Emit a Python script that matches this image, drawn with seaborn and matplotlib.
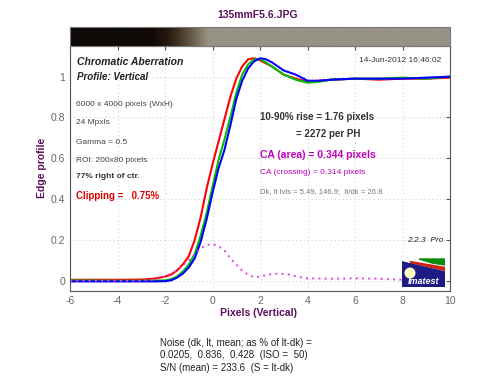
import numpy as np
import pandas as pd
import matplotlib
matplotlib.use("Agg")
import matplotlib.pyplot as plt
import seaborn as sns
from matplotlib.patches import Rectangle, Polygon, Circle

# edge profile samples (pixels from edge centre)
xpos = [-6, -4, -3, -2.5, -2, -1.75, -1.5, -1.25, -1, -0.75, -0.5, -0.25, 0,
        0.25, 0.5, 0.75, 1, 1.25, 1.5, 1.75, 2, 2.25, 2.5, 3, 3.5, 4, 4.5,
        5, 6, 7, 8, 9, 10]
red = [0.005, 0.005, 0.006, 0.01, 0.02, 0.03, 0.05, 0.08, 0.12, 0.2, 0.31,
       0.45, 0.57, 0.68, 0.79, 0.9, 0.99, 1.05, 1.085, 1.09, 1.08, 1.065,
       1.05, 1.01, 0.99, 0.975, 0.98, 0.985, 0.99, 0.985, 0.99, 0.99, 0.995]
green = [0.002, 0.0, 0.0, 0.001, 0.002, 0.008, 0.02, 0.045, 0.08, 0.13, 0.22,
         0.33, 0.46, 0.59, 0.69, 0.8, 0.92, 1.01, 1.06, 1.085, 1.085, 1.07,
         1.05, 1.01, 0.985, 0.97, 0.975, 0.985, 0.99, 0.99, 0.995, 0.99, 1.0]
blue = [-0.003, -0.003, -0.003, -0.003, -0.002, 0.002, 0.015, 0.035, 0.065,
        0.11, 0.19, 0.3, 0.43, 0.55, 0.64, 0.76, 0.89, 0.98, 1.04, 1.075,
        1.09, 1.085, 1.07, 1.03, 1.01, 0.98, 0.98, 0.985, 0.99, 0.99, 0.99,
        0.995, 1.0]

# CA difference curve
ca_x = [-6, -3, -2.5, -2, -1.5, -1, -0.75, -0.5, -0.25, 0, 0.25, 0.5, 0.75,
        1, 1.25, 1.5, 1.75, 2, 2.25, 2.5, 2.85, 3.25, 3.5, 4, 5, 6, 7, 8]
ca_y = [0, 0, 0.005, 0.02, 0.05, 0.1, 0.13, 0.16, 0.175, 0.18, 0.17, 0.15,
        0.11, 0.08, 0.05, 0.03, 0.017, 0.02, 0.028, 0.033, 0.035, 0.03,
        0.022, 0.012, 0.01, 0.012, 0.01, 0.005]

xticks = [-6, -4, -2, 0, 2, 4, 6, 8, 10]
yticks = [0, 0.2, 0.4, 0.6, 0.8, 1]
ytick_labels = ["0", "0.2", "0.4", "0.6", "0.8", "1"]

sns.set_style("white")
plt.rcParams["font.family"] = ["Liberation Sans", "DejaVu Sans"]
plt.rcParams["axes.unicode_minus"] = False

W, H = 500, 384
fig = plt.figure(figsize=(W / 100, H / 100), dpi=100)


def fx(px):
    return px / W


def fy(py):
    return 1 - py / H


ax = fig.add_axes([fx(70), fy(291), fx(380), (291 - 46) / H])

df = pd.DataFrame({
    "x": xpos * 3,
    "y": red + green + blue,
    "ch": ["R"] * len(xpos) + ["G"] * len(xpos) + ["B"] * len(xpos),
})
sns.lineplot(data=df, x="x", y="y", hue="ch", sort=False, estimator=None,
             palette={"R": "#ff0000", "G": "#00c000", "B": "#0000ff"},
             linewidth=1.5, legend=False, ax=ax)
sns.lineplot(x=ca_x, y=ca_y, color="#e040e0", linewidth=1.4,
             linestyle=(0, (1, 2.2)), ax=ax)

ax.set_xlim(-6, 10)
ax.set_ylim(-0.05, 1.15)
ax.set_xticks(xticks)
ax.set_yticks(yticks)
ax.set_yticklabels(ytick_labels)
ax.tick_params(direction="in", length=3, labelsize=7.5, colors="#555",
               top=True, right=True, labeltop=False, labelright=False)
ax.tick_params(labelcolor="#666")
ax.grid(True, linestyle=(0, (1, 3)), color="#c8c8c8", linewidth=0.7)
for s in ax.spines.values():
    s.set_color("#555")
    s.set_linewidth(0.8)
ax.set_xlabel("")
ax.set_ylabel("")

# edge image strip on top (brownish ramp from the mean profile)
sax = fig.add_axes([fx(70), fy(46), fx(380), 19 / H])
xs = np.linspace(-6, 10, 400)
dark = np.array([14, 9, 7]) / 255
light = np.array([150, 146, 132]) / 255
mean_p = np.clip(np.interp(xs, xpos, (np.array(red) + np.array(green)
                                      + np.array(blue)) / 3), 0, None)
t = np.clip((mean_p ** 0.35 - 0.12) / 0.6, 0, 1)
strip = np.zeros((1, len(xs), 3))
for i, g in enumerate([0.8, 1.0, 1.2]):
    strip[0, :, i] = dark[i] + (light[i] - dark[i]) * t ** g
sax.imshow(strip, aspect="auto", extent=[-6, 10, 0, 1])
sax.set_xticks([])
sax.set_yticks([])
for s in sax.spines.values():
    s.set_color("#777")
    s.set_linewidth(0.8)

# logo
lax = fig.add_axes([fx(402), fy(287), fx(43), 29 / H])
lax.set_xlim(0, 43)
lax.set_ylim(29, 0)
lax.axis("off")
lax.add_patch(Rectangle((0, 0), 43, 29, color="#1c1c84"))
lax.add_patch(Polygon([(0, 0), (43, 0), (43, 14), (0, 2.5)], color="white"))
lax.add_patch(Polygon([(17, 1), (43, 1), (43, 7), (30, 5)], color="#0a8a0a"))
lax.add_patch(Polygon([(8, 3.5), (43, 9.5), (43, 12.5), (10, 5)],
                      color="#d02010"))
lax.add_patch(Polygon([(0, 4), (43, 14), (43, 15.5), (0, 5.5)],
                      color="#1c1c84"))
lax.add_patch(Circle((8, 15), 4.8, color="#ffffc8"))
lax.text(22, 24, "Imatest", color="white", fontsize=6.5, fontweight="bold",
         fontstyle="italic", ha="center", va="center")

purple = "#5c0f5c"
fig.text(fx(258), fy(15), "135mmF5.6.JPG", color=purple, fontsize=7.5,
         fontweight="bold", ha="center", va="center")
fig.text(fx(258), fy(313), "Pixels (Vertical)", color=purple, fontsize=7.5,
         fontweight="bold", ha="center", va="center")
fig.text(fx(42), fy(168), "Edge profile", color=purple, fontsize=7.5,
         fontweight="bold", ha="center", va="center", rotation=90)


def txt(px, py, s, **kw):
    kw.setdefault("fontsize", 6)
    kw.setdefault("color", "#333")
    kw.setdefault("va", "center")
    fig.text(fx(px), fy(py), s, **kw)


txt(77, 62, "Chromatic Aberration", fontsize=7.5, fontweight="bold",
    fontstyle="italic", color="#222")
txt(77, 77, "Profile: Vertical", fontsize=7, fontweight="bold",
    fontstyle="italic", color="#222")
txt(76, 104, "6000 x 4000 pixels (WxH)", color="#444")
txt(76, 122, "24 Mpxls", color="#444")
txt(76, 142, "Gamma = 0.5", color="#444")
txt(76, 161, "ROI: 200x80 pixels", color="#444")
txt(76, 177, "77% right of ctr.", fontweight="bold", color="#333")
txt(76, 196, "Clipping =   0.75%", fontsize=7, fontweight="bold",
    color="#e00000")
txt(441, 61, "14-Jun-2012 16:46:02", ha="right", color="#333")
txt(260, 117, "10-90% rise = 1.76 pixels", fontsize=7, fontweight="bold")
txt(296, 134, "= 2272 per PH", fontsize=7, fontweight="bold")
txt(260, 155, "CA (area) = 0.344 pixels", fontsize=7.5, fontweight="bold",
    color="#c000c0")
txt(260, 173, "CA (crossing) = 0.314 pixels", color="#c000c0")
txt(260, 192, "Dk, lt lvls = 5.49, 146.9;  lt/dk = 26.8", fontsize=5.5,
    color="#777")
txt(443, 240, "2.2.3  Pro", ha="right", fontstyle="italic", color="#222")
txt(160, 343, "Noise (dk, lt, mean; as % of lt-dk) =", fontsize=7, color="#222")
txt(160, 355, "0.0205,  0.836,  0.428  (ISO =  50)", fontsize=7, color="#222")
txt(160, 368, "S/N (mean) = 233.6  (S = lt-dk)", fontsize=7, color="#222")

fig.savefig("out.png", dpi=100)
